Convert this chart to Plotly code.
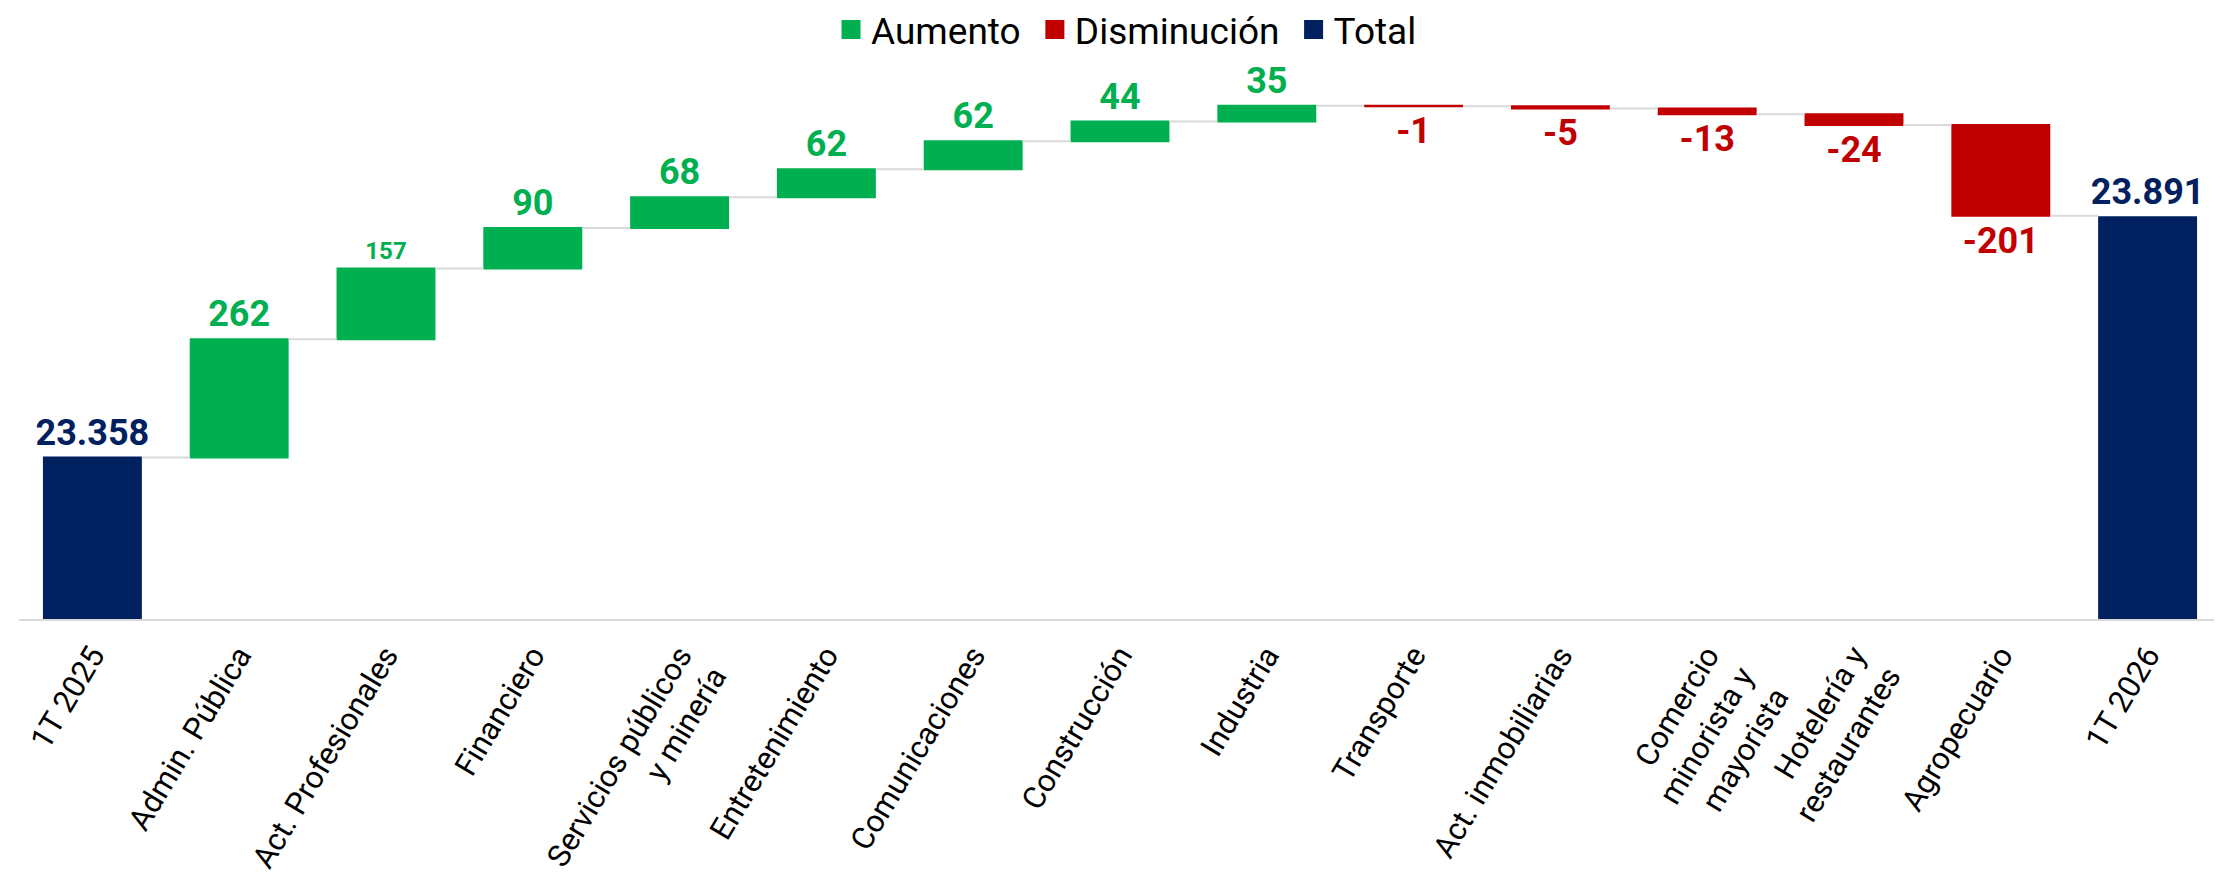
import plotly.graph_objects as go

# sectors, in the order they are drawn
categories = [
    "1T 2025", "Admin. Pública", "Act. Profesionales", "Financiero",
    "Servicios públicos<br>y minería", "Entretenimiento", "Comunicaciones",
    "Construcción", "Industria", "Transporte", "Act. inmobiliarias",
    "Comercio<br>minorista y<br>mayorista", "Hotelería y<br>restaurantes",
    "Agropecuario", "1T 2026",
]
values = [23358, 262, 157, 90, 68, 62, 62, 44, 35, -1, -5, -13, -24, -201, 23891]
measures = ["absolute"] + ["relative"] * 13 + ["absolute"]

GREEN = "#00B050"
RED = "#C00000"
NAVY = "#002060"
FONT = "Roboto"


def fmt(v):
    return f"{v:,}".replace(",", ".")


text_colors = []
text_sizes = []
for m, v in zip(measures, values):
    if m == "absolute":
        text_colors.append(NAVY)
    elif v >= 0:
        text_colors.append(GREEN)
    else:
        text_colors.append(RED)
    text_sizes.append(24 if v == 157 else 36)

fig = go.Figure()

fig.add_trace(go.Waterfall(
    x=categories,
    y=values,
    measure=measures,
    text=[fmt(v) for v in values],
    textposition="outside",
    outsidetextfont=dict(family=FONT, size=text_sizes, color=text_colors, weight="bold"),
    constraintext="none",
    cliponaxis=False,
    increasing=dict(marker=dict(color=GREEN)),
    decreasing=dict(marker=dict(color=RED)),
    totals=dict(marker=dict(color=NAVY)),
    connector=dict(line=dict(color="#D9D9D9", width=2)),
    showlegend=False,
    hoverinfo="skip",
))

# legend entries only
for name, color in [("Aumento", GREEN), ("Disminución", RED), ("Total", NAVY)]:
    fig.add_trace(go.Scatter(
        x=[None], y=[None], mode="markers", name=name + " ",
        marker=dict(symbol="square", size=16, color=color, line=dict(color=color, width=3)),
    ))

fig.update_layout(
    width=2222,
    height=877,
    margin=dict(l=11, r=9, t=63, b=266, autoexpand=False),
    paper_bgcolor="white",
    plot_bgcolor="white",
    font=dict(family=FONT, color="black"),
    waterfallgap=0.326,
    legend=dict(
        orientation="h",
        x=0.505, xanchor="center",
        y=1.075, yanchor="middle",
        font=dict(family=FONT, size=37, color="black"),
        itemclick=False,
    ),
    xaxis=dict(
        type="category",
        tickangle=-59,
        tickfont=dict(family=FONT, size=31, color="black"),
        showline=True, linecolor="#D9D9D9", linewidth=2,
        showgrid=False, ticks="", ticklabelstandoff=4,
        automargin=False,
    ),
    yaxis=dict(
        range=[23000, 24215],
        visible=False,
        showgrid=False,
        zeroline=False,
        automargin=False,
    ),
)

fig.write_html("out.html")
